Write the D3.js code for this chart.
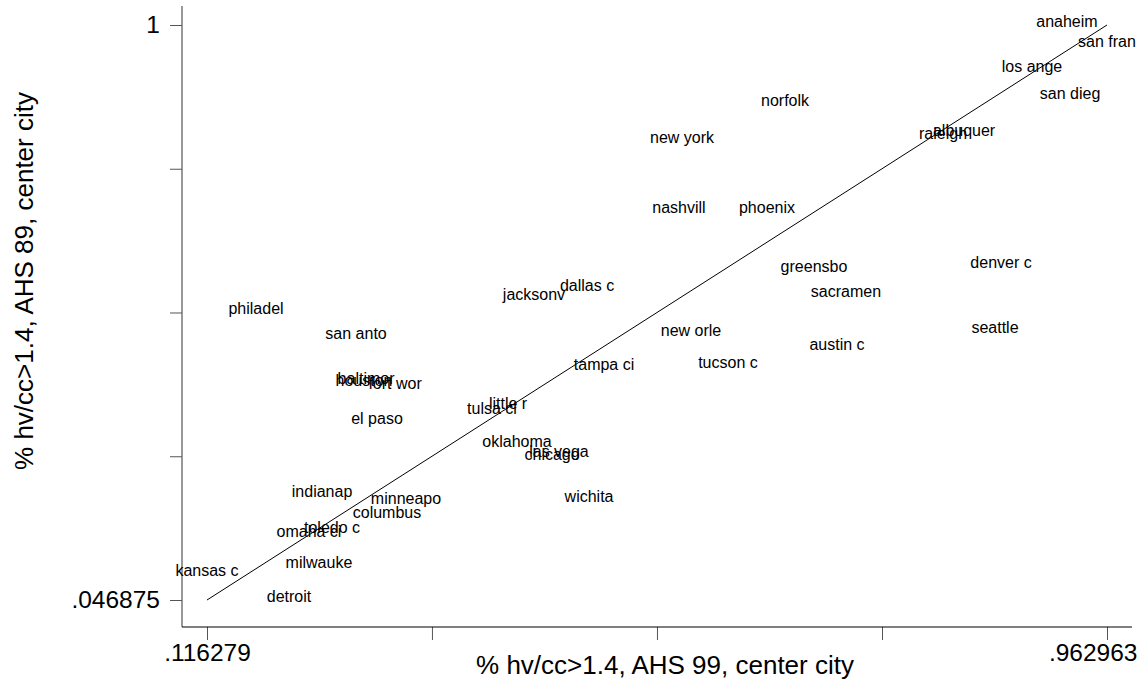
<!DOCTYPE html>
<html>
<head>
<meta charset="utf-8">
<script src="https://cdn.jsdelivr.net/npm/d3@7"></script>
<style>
body { margin: 0; background: #fff; }
text { font-family: "Liberation Sans", Arial, sans-serif; fill: #000; }
</style>
</head>
<body>
<div id="graph"></div>
<script>
// city labels and their values
var cities = ["anaheim","san fran","los ange","san dieg","norfolk","new york","raleigh","albuquer",
    "nashvill","phoenix","greensbo","denver c","sacramen","philadel","jacksonv","dallas c",
    "san anto","new orle","seattle","austin c","tampa ci","tucson c","baltimor","houston",
    "fort wor","el paso","tulsa ci","little r","oklahoma","las vega","chicago","wichita",
    "indianap","minneapo","columbus","toledo c","omaha ci","milwauke","kansas c","detroit"];
// % hv/cc>1.4, AHS 99, center city
var ahs99 = [.9253,.962963,.8924,.9282,.6601,.5632,.8087,.8285,
    .5603,.6431,.6873,.8633,.7174,.1624,.4239,.4738,
    .2565,.5716,.8576,.7090,.4898,.6064,.2659,.2640,
    .2932,.2762,.3844,.3995,.4079,.4474,.4409,.4757,
    .2245,.3035,.2856,.2339,.2122,.2216,.116279,.1934];
// % hv/cc>1.4, AHS 89, center city
var ahs89 = [1,.9675,.9260,.8813,.8697,.8083,.8150,.8199,
    .6923,.6923,.5945,.6011,.5531,.5249,.5481,.5630,
    .4835,.4884,.4934,.4652,.4321,.4354,.4089,.4055,
    .4006,.3426,.3591,.3674,.3044,.2879,.2829,.2133,
    .2216,.2100,.1868,.1619,.1552,.1039,.0906,.046875];
// reference line
var lineX = [.116279, .962963];
var lineY = [.046875, 1];
// axis ticks
var xTicks = [.116279, .3279, .5396, .7513, .962963];
var xTickLabels = [".116279", "", "", "", ".962963"];
var yTicks = [.046875, .285156, .523438, .761719, 1];
var yTickLabels = [".046875", "", "", "", "1"];
var xTitle = "% hv/cc>1.4, AHS 99, center city";
var yTitle = "% hv/cc>1.4, AHS 89, center city";

var W = 1143, H = 691;
var plot = {left: 182, right: 1132, top: 6, bottom: 627};

var svg = d3.select('#graph').append('svg')
    .attr('width', W)
    .attr('height', H);

var xScale = d3.scaleLinear().domain([lineX[0], lineX[1]]).range([207, 1107]);
var yScale = d3.scaleLinear().domain([lineY[0], lineY[1]]).range([600, 25]);

// axes
var xAxis = d3.axisBottom(xScale).tickValues(xTicks).tickSize(13).tickPadding(4)
    .tickFormat(function(d, i){ return xTickLabels[i]; });
var gx = svg.append('g')
    .attr('transform', 'translate(0,' + plot.bottom + ')')
    .call(xAxis);
gx.select('.domain').remove();
gx.selectAll('.tick line').attr('stroke', '#555');
gx.selectAll('.tick text')
    .style('font-size', '24.5px')
    .attr('text-anchor', function(d, i){ return i == xTicks.length - 1 ? 'end' : 'middle'; })
    .attr('x', function(d, i){ return i == xTicks.length - 1 ? 1137 - xScale(d) : 0; });

var yAxis = d3.axisLeft(yScale).tickValues(yTicks).tickSize(12).tickPadding(10)
    .tickFormat(function(d, i){ return yTickLabels[i]; });
var gy = svg.append('g')
    .attr('transform', 'translate(' + plot.left + ',0)')
    .call(yAxis);
gy.select('.domain').remove();
gy.selectAll('.tick line').attr('stroke', '#555');
gy.selectAll('.tick text').style('font-size', '24.5px');

svg.append('line')
    .attr('x1', plot.left).attr('x2', plot.left)
    .attr('y1', plot.top).attr('y2', plot.bottom)
    .attr('stroke', '#555').attr('stroke-width', 1.2);
svg.append('line')
    .attr('x1', plot.left).attr('x2', plot.right)
    .attr('y1', plot.bottom).attr('y2', plot.bottom)
    .attr('stroke', '#000').attr('stroke-width', 1.2);

// titles
svg.append('text')
    .attr('x', 665)
    .attr('y', 674)
    .attr('text-anchor', 'middle')
    .style('font-size', '26px')
    .text(xTitle);
svg.append('text')
    .attr('transform', 'translate(33,' + 281 + ') rotate(-90)')
    .attr('text-anchor', 'middle')
    .style('font-size', '26px')
    .text(yTitle);

// line
var data2line = d3.line()
    .x(function(d){ return xScale(d.x); })
    .y(function(d){ return yScale(d.y); });
var linedata = lineX.map(function(v, i){ return {x: v, y: lineY[i]}; });
svg.append('path')
    .attr('d', data2line(linedata))
    .attr('fill', 'none')
    .attr('stroke', '#000')
    .attr('stroke-width', 1);

// city labels, centred on the point
svg.append('g').selectAll('text')
    .data(cities)
    .enter()
    .append('text')
    .attr('x', function(d, i){ return xScale(ahs99[i]); })
    .attr('y', function(d, i){ return yScale(ahs89[i]); })
    .attr('dy', '0.15em')
    .attr('text-anchor', 'middle')
    .style('font-size', '16px')
    .text(function(d){ return d; });
</script>
</body>
</html>
